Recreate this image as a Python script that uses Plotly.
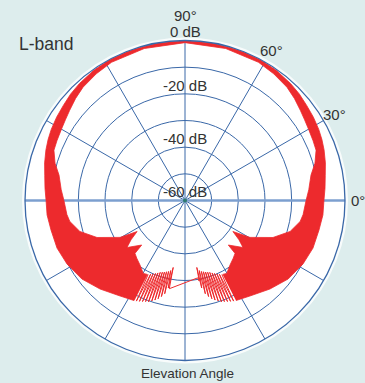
import math
import plotly.graph_objects as go

# ---- L-band elevation pattern (right half, degrees / dB); left half is its mirror ----
upper_theta = [90, 80, 70, 62, 55, 48, 43, 38, 33, 28, 24, 20, 15, 10, 5, 0, -6, -12.4, -20.4,
               -28.3, -37.3, -46.2, -55.8, -63]
upper_gain = [0, 0, -0.05, -0.1, -0.4, -0.9, -1.4, -2.1, -2.6, -3.2, -3.8, -4.5, -5.5, -6.6, -7.3,
              -7.9, -8.0, -8.55, -8.8, -9.75, -11.4, -14.0, -16.7, -17.9]

lower_theta = [90, 75, 62, 55, 48, 43, 38, 34, 30, 25, 21, 16, 11.4, 5, 0, -6.8, -10.3, -16.4,
               -22.8, -29.6, -32.9, -36, -39, -45.8, -46.6, -50.1, -55.1, -60.2, -63]
lower_gain = [-0.8, -1.0, -1.3, -2.0, -2.85, -3.9, -5.1, -5.9, -6.5, -7.0, -7.35, -9.3, -11.8,
              -13.4, -14.6, -15.4, -16.1, -18.9, -24.2, -32.0, -38.6, -35.0, -32.0, -36.7, -32.7,
              -31.8, -30.5, -28.5, -28.9]

# low-elevation ripple swings (alternating min / max samples)
ripple_theta = [-63.5, -64.2, -65.0, -65.7, -66.5, -67.2, -68.0, -68.7, -69.5, -70.2, -71.0, -71.7,
                -72.5, -73.2, -74.0, -74.7, -75.5, -76.2, -77.0, -77.7, -78.5, -79.2, -80.0, -80.0,
                -80.7]
ripple_gain = [-29.0, -18.1, -29.5, -18.5, -30.0, -18.9, -30.5, -19.3, -31.0, -19.6, -31.5, -20.3,
               -31.8, -21.0, -32.1, -21.8, -32.4, -22.9, -32.7, -24.2, -33.2, -26.6, -34.5, -29.3,
               -30.6]
# far end of the sweep on the other side
ripple_end_theta = [259.9]
ripple_end_gain = [-26.4]

radial_ticks = [-60, -50, -40, -30, -20, -10, 0]
radial_labels = {-60: "-60 dB", -40: "-40 dB", -20: "-20 dB", 0: "0 dB"}
angle_ticks = list(range(0, 360, 30))
angle_labels = {0: "0°", 30: "30°", 60: "60°", 90: "90°"}

RED = "#ED2A2D"
BLUE = "#3A68A8"
BG = "#DDEDED"
FONT = "Liberation Sans, Arial, sans-serif"
TXT = "#333333"

W, H = 365, 383
CX, CY, R = 185, 200.5, 160

def mirror(thetas):
    return [180 - t for t in thetas]

# closed outline of both lobes: right upper -> left upper -> left lower -> right lower
poly_theta = (upper_theta[::-1] + mirror(upper_theta)[1:] +
              mirror(lower_theta)[::-1] + lower_theta[1:])
poly_gain = (upper_gain[::-1] + upper_gain[1:] + lower_gain[::-1] + lower_gain[1:])

# ripple sweep: right side, across to the left side, then back up the left side
sweep_theta = ripple_theta + ripple_end_theta + mirror(ripple_theta[:-2])[::-1]
sweep_gain = ripple_gain + ripple_end_gain + ripple_gain[:-2][::-1]

fig = go.Figure()

# emphasised horizon line (0° / 180°)
fig.add_trace(go.Scatterpolar(
    theta=[0, 180], r=[0, 0], mode="lines",
    line=dict(color="#7C9FCF", width=2.5), hoverinfo="skip"))

fig.add_trace(go.Scatterpolar(
    theta=poly_theta, r=poly_gain, mode="lines", fill="toself",
    fillcolor=RED, line=dict(color=RED, width=0.8), hoverinfo="skip"))

fig.add_trace(go.Scatterpolar(
    theta=sweep_theta, r=sweep_gain, mode="lines",
    line=dict(color=RED, width=1), hoverinfo="skip"))

# origin marker
fig.add_trace(go.Scatterpolar(
    theta=[0], r=[radial_ticks[0]], mode="markers",
    marker=dict(color="#2E7A6E", size=4), hoverinfo="skip"))

x0, x1 = (CX - R) / W, (CX + R) / W
y0, y1 = 1 - (CY + R) / H, 1 - (CY - R) / H

def paper(px, py):
    return px / W, 1 - py / H

annotations = []
# dB labels centred on the vertical axis, just above each ring
for v, txt in radial_labels.items():
    ypx = CY - R * (v - radial_ticks[0]) / (radial_ticks[-1] - radial_ticks[0])
    px, py = paper(CX, ypx - 8.5)
    annotations.append(dict(
        x=px, y=py, xref="paper", yref="paper", text=txt,
        showarrow=False, xanchor="center", yanchor="middle", borderpad=0,
        font=dict(family=FONT, size=15, color=TXT)))
# angle labels outside the rim
for a, txt in angle_labels.items():
    dist = R + (25 if a == 90 else 13)
    px, py = paper(CX + dist * math.cos(math.radians(a)), CY - dist * math.sin(math.radians(a)))
    annotations.append(dict(
        x=px, y=py, xref="paper", yref="paper", text=txt,
        showarrow=False, xanchor="center", yanchor="middle", borderpad=0,
        font=dict(family=FONT, size=15, color=TXT)))
px, py = paper(17, 44)
annotations.append(dict(
    x=px, y=py, xref="paper", yref="paper", text="L-band",
    showarrow=False, xanchor="left", yanchor="middle",
    font=dict(family=FONT, size=17.5, color=TXT)))
px, py = paper(187, 373)
annotations.append(dict(
    x=px, y=py, xref="paper", yref="paper", text="Elevation Angle",
    showarrow=False, xanchor="center", yanchor="middle",
    font=dict(family=FONT, size=13.5, color=TXT)))

fig.update_layout(
    width=W, height=H, autosize=False,
    margin=dict(l=0, r=0, t=0, b=0),
    paper_bgcolor=BG, showlegend=False,
    shapes=[dict(type="circle", xref="paper", yref="paper", layer="below",
                 x0=(CX - R - 1.5) / W, x1=(CX + R + 1.5) / W,
                 y0=1 - (CY + R + 1.5) / H, y1=1 - (CY - R - 1.5) / H,
                 line=dict(color="rgba(255,255,255,0.8)", width=3))],
    annotations=annotations,
    polar=dict(
        domain=dict(x=[x0, x1], y=[y0, y1]),
        bgcolor="white",
        radialaxis=dict(range=[radial_ticks[0], radial_ticks[-1]], tickvals=radial_ticks,
                        showticklabels=False, ticks="", showline=False,
                        gridcolor=BLUE, gridwidth=1.1, angle=90),
        angularaxis=dict(tickvals=angle_ticks, showticklabels=False,
                         ticks="", showline=True, linecolor=BLUE, linewidth=1.3,
                         gridcolor=BLUE, gridwidth=1.1),
    ),
)

fig.write_html("out.html")
